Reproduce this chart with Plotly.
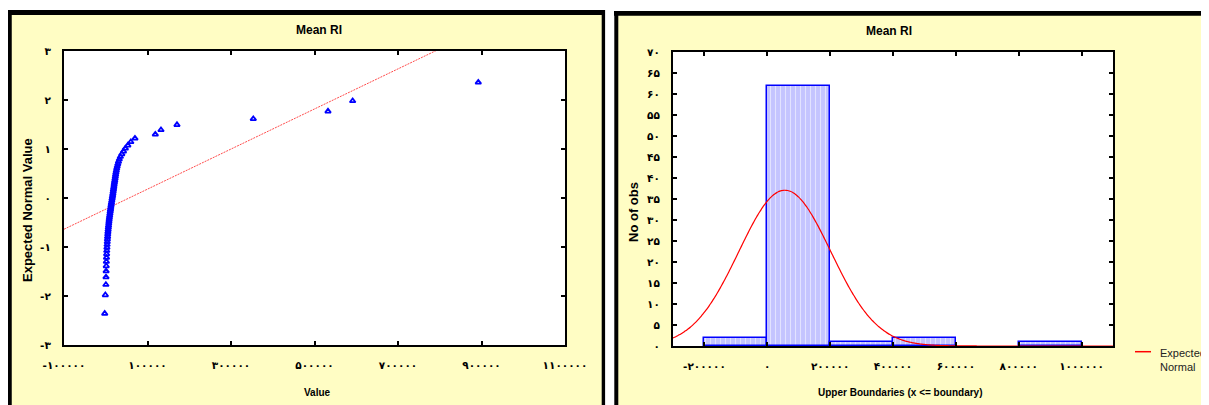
import numpy as np
import plotly.graph_objects as go

# ---------------- data ----------------
# sorted observations (Mean RI)
values = [-2500, -1000, 300, 600, 900, 1200, 1500, 1800, 2100, 2400, 2800, 3200,
          3600, 4000, 4400, 4800, 5200, 5700, 6200, 6700, 7200, 7700, 8200, 8800,
          9400, 10000, 10600, 11200, 11800, 12400, 13000, 13700, 14400, 15100,
          15800, 16500, 17100, 17700, 18300, 18900, 19500, 20100, 20800, 21500,
          22200, 22900, 23600, 24300, 25300, 26300, 27500, 28900, 30500, 32500,
          35000, 38500, 42500, 47000, 53000, 60000, 70000,
          118700, 132300, 170600, 353400, 532300, 591400, 892300]

# expected normal values of the order statistics
expected_normal = [-2.359, -1.981, -1.769, -1.615, -1.493, -1.389, -1.298, -1.217,
                   -1.144, -1.076, -1.012, -0.953, -0.897, -0.843, -0.792, -0.742,
                   -0.695, -0.649, -0.604, -0.561, -0.518, -0.477, -0.436, -0.396,
                   -0.356, -0.318, -0.279, -0.241, -0.204, -0.166, -0.129, -0.092,
                   -0.055, -0.018, 0.018, 0.055, 0.092, 0.129, 0.166, 0.204, 0.241,
                   0.279, 0.318, 0.356, 0.396, 0.436, 0.477, 0.518, 0.561, 0.604,
                   0.649, 0.695, 0.742, 0.792, 0.843, 0.897, 0.953, 1.012, 1.076,
                   1.144, 1.217, 1.298, 1.389, 1.493, 1.615, 1.769, 1.981, 2.359]

# tick values / labels
qq_x_ticks = [-100000, 100000, 300000, 500000, 700000, 900000, 1100000]
qq_x_labels = ["-۱۰۰۰۰۰", "۱۰۰۰۰۰", "۳۰۰۰۰۰", "۵۰۰۰۰۰", "۷۰۰۰۰۰", "۹۰۰۰۰۰", "۱۱۰۰۰۰۰"]
qq_y_ticks = [-3, -2, -1, 0, 1, 2, 3]
qq_y_labels = ["-۳", "-۲", "-۱", "۰", "۱", "۲", "۳"]

hist_x_ticks = [-200000, 0, 200000, 400000, 600000, 800000, 1000000]
hist_x_labels = ["-۲۰۰۰۰۰", "۰", "۲۰۰۰۰۰", "۴۰۰۰۰۰", "۶۰۰۰۰۰", "۸۰۰۰۰۰", "۱۰۰۰۰۰۰"]
hist_y_ticks = [0, 5, 10, 15, 20, 25, 30, 35, 40, 45, 50, 55, 60, 65, 70]
hist_y_labels = ["۰", "۵", "۱۰", "۱۵", "۲۰", "۲۵", "۳۰", "۳۵", "۴۰", "۴۵", "۵۰",
                 "۵۵", "۶۰", "۶۵", "۷۰"]

bin_start, bin_end, bin_size = -200000, 1000000, 200000

# ---------------- derived ----------------
vals = np.array(values, dtype=float)
zs = np.array(expected_normal)
slope, intercept = np.polyfit(vals, zs, 1)
line_x = np.array([-100000.0, 1100000.0])
line_y = intercept + slope * line_x

n = len(vals)
mu = vals.mean()
sd = vals.std(ddof=1)
curve_x = np.linspace(-300000, 1100000, 281)
curve_y = n * bin_size * np.exp(-0.5 * ((curve_x - mu) / sd) ** 2) / (sd * np.sqrt(2 * np.pi))

# ---------------- figure ----------------
# the page body has an 8px margin, so the figure is sized to fit and all
# layout positions (given in window pixels) are shifted by that offset
OFF = 8
W, H = 1209 - OFF, 405 - OFF
def PX(x):
    return (x - OFF) / W
def PY(y):
    return 1 - (y - OFF) / H

FONT = "Liberation Sans, Arial, DejaVu Sans, sans-serif"
DIGITS = "DejaVu Sans, Liberation Sans, sans-serif"
YELLOW = "#FFFDC4"

fig = go.Figure()

fig.add_trace(go.Scatter(
    x=line_x, y=line_y, mode="lines", xaxis="x", yaxis="y",
    line=dict(color="#FF4C4C", width=1, dash="2px,1px"), showlegend=False,
    hoverinfo="skip"))
fig.add_trace(go.Scatter(
    x=values, y=expected_normal, mode="markers", xaxis="x", yaxis="y",
    marker=dict(symbol="triangle-up-open", size=5, color="#0000FF",
                line=dict(width=1.8, color="#0000FF")),
    showlegend=False))

fig.add_trace(go.Histogram(
    x=values, xaxis="x2", yaxis="y2",
    xbins=dict(start=bin_start, end=bin_end, size=bin_size),
    marker=dict(color="#C4C4FF", line=dict(color="#0000FF", width=1.5),
                pattern=dict(shape="|", fgcolor="white", bgcolor="#C4C4FF",
                             size=5, solidity=0.22)),
    showlegend=False))
fig.add_trace(go.Scatter(
    x=curve_x, y=curve_y, mode="lines", xaxis="x2", yaxis="y2",
    line=dict(color="#FF0000", width=1.2, shape="spline"), showlegend=False,
    name="Expected Normal"))

axis_common = dict(
    showgrid=False, zeroline=False, showline=True, linecolor="black", linewidth=2,
    mirror="ticks", ticks="inside", ticklen=4, tickwidth=1.5, tickcolor="black",
    automargin=False, fixedrange=True,
    tickmode="array", tickfont=dict(family=DIGITS, size=10.5, color="black", weight="bold"),
)

fig.update_layout(
    width=W, height=H, autosize=False,
    margin=dict(l=0, r=0, t=0, b=0, pad=0),
    paper_bgcolor="white", plot_bgcolor="white",
    bargap=0,
    xaxis=dict(axis_common, domain=[PX(64), PX(565)], anchor="y",
               range=[-100000, 1100000], tickvals=qq_x_ticks, ticktext=qq_x_labels,
               ticklabelstandoff=9),
    yaxis=dict(axis_common, domain=[PY(345), PY(51)], anchor="x",
               range=[-3, 3], tickvals=qq_y_ticks, ticktext=qq_y_labels,
               ticklabelstandoff=9),
    xaxis2=dict(axis_common, domain=[PX(673), PX(1113)], anchor="y2",
                range=[-300000, 1100000], tickvals=hist_x_ticks, ticktext=hist_x_labels,
                ticklabelstandoff=9),
    yaxis2=dict(axis_common, domain=[PY(346), PY(52)], anchor="x2",
                range=[0, 70], tickvals=hist_y_ticks, ticktext=hist_y_labels,
                ticklabelstandoff=9),
)

shapes = []
# panel backgrounds
shapes.append(dict(type="rect", xref="paper", yref="paper", layer="below",
                   x0=PX(8), x1=PX(604), y0=PY(420), y1=PY(12), fillcolor=YELLOW,
                   line=dict(width=0)))
shapes.append(dict(type="rect", xref="paper", yref="paper", layer="below",
                   x0=PX(615), x1=PX(1207), y0=PY(420), y1=PY(13), fillcolor=YELLOW,
                   line=dict(width=0)))
# plot areas white
shapes.append(dict(type="rect", xref="x domain", yref="y domain", layer="below",
                   x0=0, x1=1, y0=0, y1=1, fillcolor="white", line=dict(width=0)))
shapes.append(dict(type="rect", xref="x2 domain", yref="y2 domain", layer="below",
                   x0=0, x1=1, y0=0, y1=1, fillcolor="white", line=dict(width=0)))
# black frames
def hline(x0, x1, y, w):
    return dict(type="line", xref="paper", yref="paper", x0=PX(x0), x1=PX(x1),
                y0=PY(y), y1=PY(y), line=dict(color="black", width=w))
def vline(x, y0, y1, w):
    return dict(type="line", xref="paper", yref="paper", x0=PX(x), x1=PX(x),
                y0=PY(y0), y1=PY(y1), line=dict(color="black", width=w))
shapes += [
    hline(7, 605, 12.5, 5), vline(9.5, 10, 420, 4.5), vline(603.4, 10, 420, 3.4),
    hline(614, 1207, 13.3, 4.7), vline(616.3, 11, 420, 4),
]
# legend sample line
shapes.append(dict(type="line", xref="paper", yref="paper",
                   x0=PX(1135), x1=PX(1151), y0=PY(351.7), y1=PY(351.7),
                   line=dict(color="#FF0000", width=1.5)))
fig.update_layout(shapes=shapes)

ann = [
    dict(text="<b>Mean RI</b>", x=PX(319), y=PY(30), font=dict(size=12)),
    dict(text="<b>Mean RI</b>", x=PX(889), y=PY(31), font=dict(size=12)),
    dict(text="<b>Value</b>", x=PX(317), y=PY(392.5), font=dict(size=10)),
    dict(text="<b>Upper Boundaries (x <= boundary)</b>", x=PX(900), y=PY(392.5),
         font=dict(size=10)),
    dict(text="<b>Expected Normal Value</b>", x=PX(27), y=PY(210), textangle=-90,
         font=dict(size=13)),
    dict(text="<b>No of obs</b>", x=PX(633), y=PY(212), textangle=-90,
         font=dict(size=13)),
    dict(text="Expected<br>Normal", x=PX(1158), y=PY(360), xanchor="left",
         align="left", font=dict(size=11, color="#222222")),
]
for a in ann:
    a.setdefault("xanchor", "center")
    a.update(xref="paper", yref="paper", yanchor="middle", showarrow=False)
    a["font"] = dict(dict(family=FONT, color="black"), **a["font"])
fig.update_layout(annotations=ann)

fig.write_html("out.html", config={"displayModeBar": False})
